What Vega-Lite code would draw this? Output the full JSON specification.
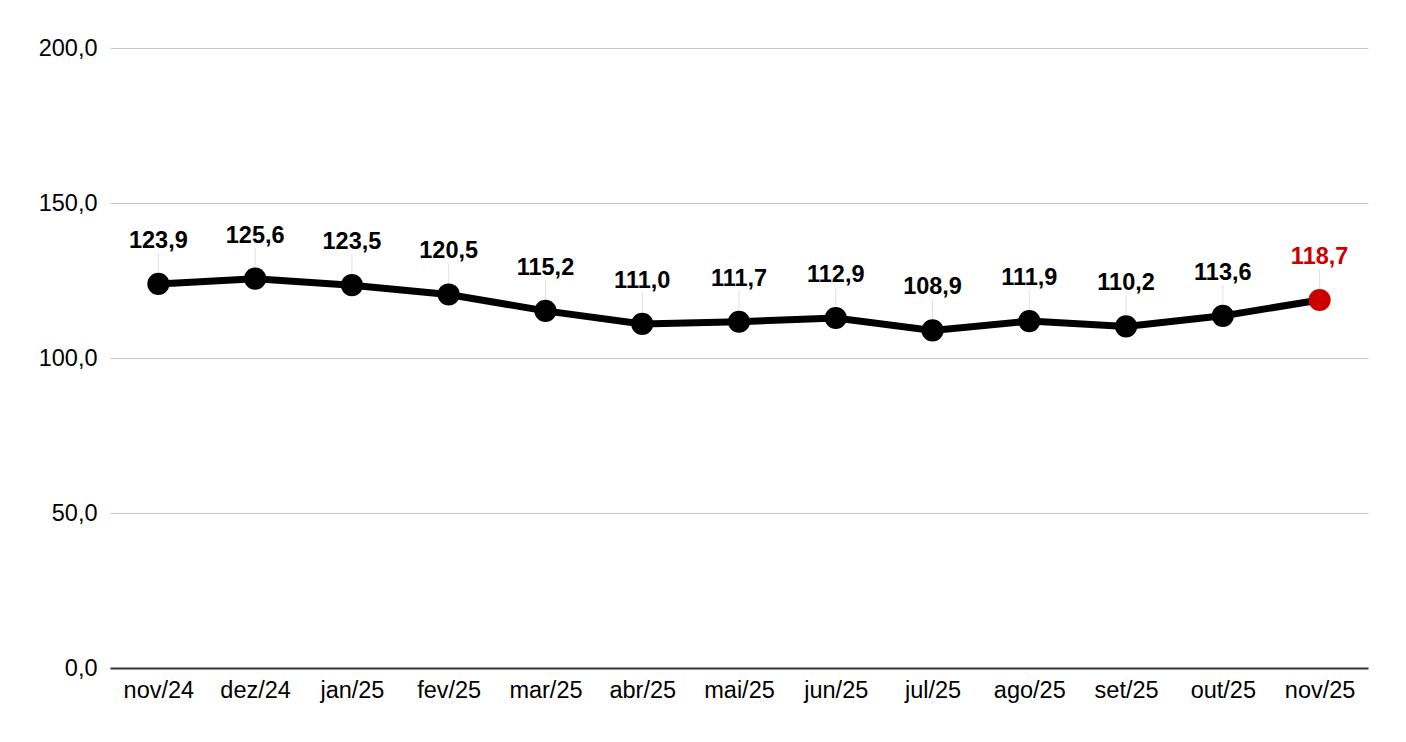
{
  "$schema": "https://vega.github.io/schema/vega-lite/v6.json",
  "width": 1258,
  "height": 620,
  "autosize": {"type": "none"},
  "padding": {"left": 110, "top": 48, "right": 38, "bottom": 74},
  "background": "white",
  "config": {
    "locale": {"number": {"decimal": ",", "thousands": ".", "grouping": [3], "currency": ["R$", ""]}},
    "font": "Liberation Sans",
    "view": {"stroke": null}
  },
  "data": {
    "values": [
      {"mes": "nov/24", "valor": 123.9, "destaque": "n"},
      {"mes": "dez/24", "valor": 125.6, "destaque": "n"},
      {"mes": "jan/25", "valor": 123.5, "destaque": "n"},
      {"mes": "fev/25", "valor": 120.5, "destaque": "n"},
      {"mes": "mar/25", "valor": 115.2, "destaque": "n"},
      {"mes": "abr/25", "valor": 111.0, "destaque": "n"},
      {"mes": "mai/25", "valor": 111.7, "destaque": "n"},
      {"mes": "jun/25", "valor": 112.9, "destaque": "n"},
      {"mes": "jul/25", "valor": 108.9, "destaque": "n"},
      {"mes": "ago/25", "valor": 111.9, "destaque": "n"},
      {"mes": "set/25", "valor": 110.2, "destaque": "n"},
      {"mes": "out/25", "valor": 113.6, "destaque": "n"},
      {"mes": "nov/25", "valor": 118.7, "destaque": "s"}
    ]
  },
  "encoding": {
    "x": {
      "field": "mes", "type": "ordinal", "sort": null,
      "scale": {"type": "point", "padding": 0.5},
      "axis": {
        "title": null, "labelAngle": 0, "labelFontSize": 23.5, "labelColor": "#000",
        "labelPadding": 10, "ticks": false, "domainColor": "#333", "domainWidth": 2,
        "grid": false
      }
    },
    "y": {
      "field": "valor", "type": "quantitative",
      "scale": {"domain": [0, 200], "nice": false},
      "axis": {
        "title": null, "values": [0, 50, 100, 150, 200], "format": ".1f",
        "labelFontSize": 23.5, "labelColor": "#000", "labelPadding": 13,
        "ticks": false, "domain": false, "gridColor": "#c4c4c4", "gridWidth": 1
      }
    }
  },
  "layer": [
    {
      "mark": {"type": "rule", "color": "#e0e0e0", "strokeWidth": 1, "yOffset": -31, "y2Offset": 0},
      "encoding": {"y2": {"field": "valor"}}
    },
    {
      "mark": {"type": "line", "color": "#000", "strokeWidth": 7}
    },
    {
      "mark": {"type": "point", "filled": true, "size": 490, "opacity": 1},
      "encoding": {
        "color": {"field": "destaque", "type": "nominal", "scale": {"domain": ["n", "s"], "range": ["#000000", "#cc0000"]}, "legend": null}
      }
    },
    {
      "mark": {"type": "text", "fontSize": 23.5, "fontWeight": "bold", "dy": -43, "baseline": "middle"},
      "encoding": {
        "text": {"field": "valor", "type": "quantitative", "format": ".1f"},
        "color": {"field": "destaque", "type": "nominal", "scale": {"domain": ["n", "s"], "range": ["#000000", "#cc0000"]}, "legend": null}
      }
    }
  ]
}
